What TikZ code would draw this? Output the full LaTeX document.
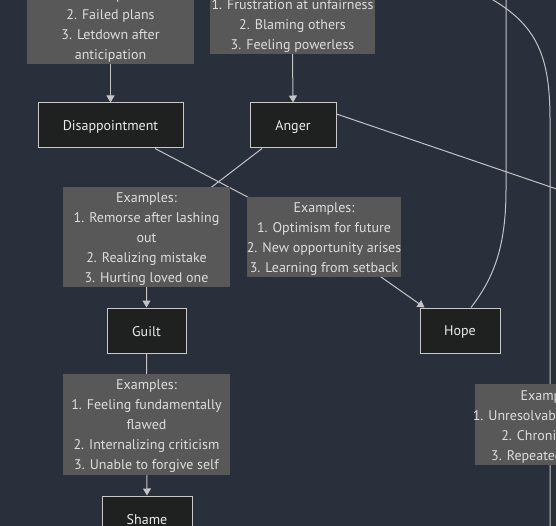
\documentclass[tikz,border=0pt]{standalone}
\usepackage{fontspec}
\setmainfont{PT Sans}
\usetikzlibrary{arrows.meta,calc}
\definecolor{bgc}{HTML}{2A2F3C}
\definecolor{nodefill}{HTML}{1F2020}
\definecolor{nodeline}{HTML}{C8C8C8}
\definecolor{labfill}{HTML}{585858}
\definecolor{labtext}{HTML}{DDDDDD}
\definecolor{edgec}{HTML}{C4C4C4}
\pgfdeclarelayer{background}
\pgfdeclarelayer{edges}
\pgfsetlayers{background,edges,main}
\newcommand\exnode[5]{\node[exbox=#3, minimum width=#4,
  label={[text=labtext, yshift=-2pt]center:{#5}}] (#1) at #2 {};}
\begin{document}
\begin{tikzpicture}[x=1pt,y=-1pt,
  every node/.style={font=\fontsize{14}{20}\selectfont, inner sep=0pt, align=center},
  emo/.style={draw=nodeline, line width=1pt, fill=nodefill, text=white!92!black, minimum height=45pt,
    execute at begin node={\rule{0pt}{12pt}}},
  exbox/.style={fill=labfill, minimum height=#1},
  exbox/.default=100pt,
  edge/.style={draw=edgec, line width=1pt},
  arr/.style={edge, -{Triangle[width=8pt,length=7pt]}}
]
\begin{pgfonlayer}{background}
\fill[bgc] (0,0) rectangle (556,526);
\end{pgfonlayer}
\clip (0,0) rectangle (556,526);
\useasboundingbox (0,0) rectangle (556,526);

% example label boxes
\exnode{dEx}{(110.5,14)}{100pt}{167pt}{Examples:\\1. Unmet expectations\\2. Failed plans\\3. Letdown after\\anticipation}
\exnode{aEx}{(292.5,14)}{80pt}{165pt}{Examples:\\1. Frustration at unfairness\\2. Blaming others\\3. Feeling powerless}
\exnode{gEx}{(146.5,237)}{100pt}{167pt}{Examples:\\1. Remorse after lashing\\out\\2. Realizing mistake\\3. Hurting loved one}
\exnode{hEx}{(324,237)}{80pt}{154pt}{Examples:\\1. Optimism for future\\2. New opportunity arises\\3. Learning from setback}
\exnode{sEx}{(146.5,424.5)}{101pt}{167pt}{Examples:\\1. Feeling fundamentally\\flawed\\2. Internalizing criticism\\3. Unable to forgive self}
\exnode{rEx}{(551,424.5)}{81pt}{152pt}{Examples:\\1. Unresolvable situations\\2. Chronic stress\\3. Repeated failures}

% emotion nodes
\node[emo, minimum width=145pt] (dis) at (110.5,125.5) {Disappointment};
\node[emo, minimum width=86pt] (anger) at (293,125.5) {Anger};
\node[emo, minimum width=79pt] (guilt) at (146.5,330.5) {Guilt};
\node[emo, minimum width=80pt] (hope) at (460,330.5) {Hope};
\node[emo, minimum width=90pt] (shame) at (147,518.5) {Shame};

% off-frame ends
\coordinate (topA) at (506,-60);
\coordinate (topB) at (470,-12);
\coordinate (botB) at (550,580);
\coordinate (rightC) at (620,210.6);

\begin{pgfonlayer}{edges}
\draw[arr] (dEx.south) -- (dis.north);
\draw[arr] (aEx.south) -- (anger.north);
\draw[arr] ([xshift=44.5pt]dis.south) -- (hEx.center) -- ([xshift=5pt]hope.north west);
\draw[arr] ([xshift=-31pt]anger.south) -- (gEx.center) -- (guilt.north);
\draw[arr] (guilt.south) -- (sEx.center) -- (shame.north);
\draw[edge] ([yshift=11.5pt]anger.east) -- (rightC);
\draw[edge] (topA) -- (506,190) .. controls (506,250) and (492,280) .. ([xshift=11pt]hope.north);
\draw[edge] (topB) .. controls (535,18) and (550,50) .. (550,120) -- (botB);
\end{pgfonlayer}
\end{tikzpicture}
\end{document}
